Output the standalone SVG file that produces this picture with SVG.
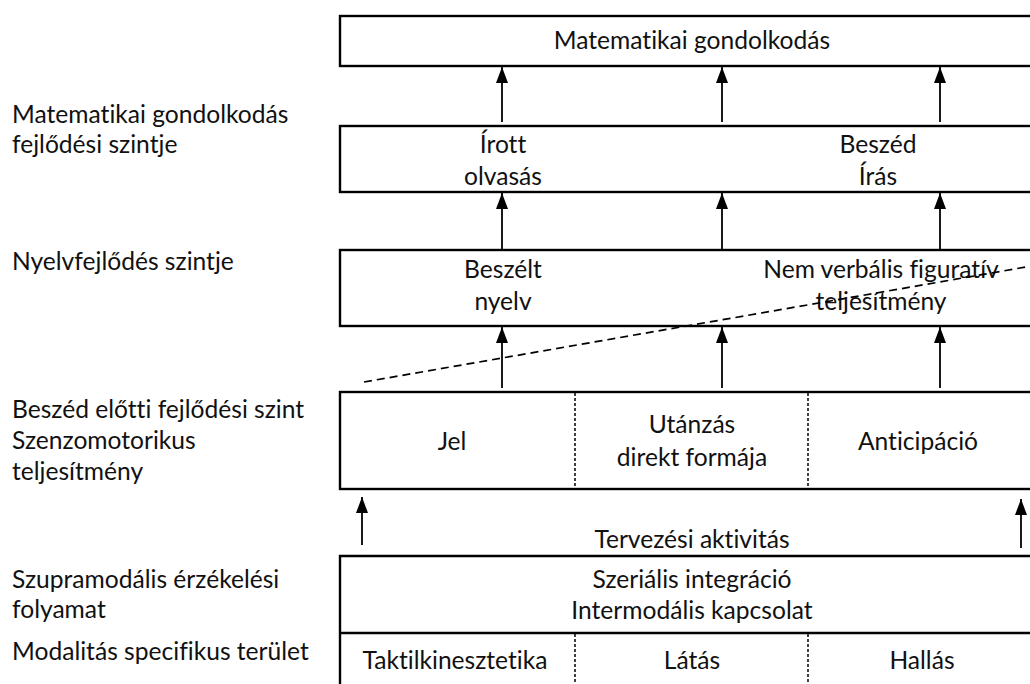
<svg xmlns="http://www.w3.org/2000/svg" width="1030" height="684" viewBox="0 0 1030 684">
  <style>
    text { font-family: Lato, "Open Sans", sans-serif; font-size: 24.6px; fill: #111; font-variant-ligatures: none; }
    .c { text-anchor: middle; }
    .box { fill: #fff; stroke: #000; stroke-width: 2.4; }
    .div { stroke: #000; stroke-width: 1.5; stroke-dasharray: 3 2; }
    .arrow { stroke: #000; stroke-width: 1.8; fill: none; marker-end: url(#head); }
    .dash { stroke: #000; stroke-width: 1.7; stroke-dasharray: 8 5; fill: none; }
  </style>
  <defs>
    <marker id="head" viewBox="0 0 16 12" refX="16" refY="6" markerWidth="16" markerHeight="12" markerUnits="userSpaceOnUse" orient="auto">
      <path d="M0,0 L16,6 L0,12 Z" fill="#000"/>
    </marker>
  </defs>

  <rect width="1030" height="684" fill="#fff"/>

  <!-- level labels on the left -->
  <g id="labels">
    <text x="12" y="123">Matematikai gondolkodás</text>
    <text x="12" y="153">fejlődési szintje</text>
    <text x="12" y="270">Nyelvfejlődés szintje</text>
    <text x="12" y="418">Beszéd előtti fejlődési szint</text>
    <text x="12" y="449">Szenzomotorikus</text>
    <text x="12" y="480">teljesítmény</text>
    <text x="12" y="588">Szupramodális érzékelési</text>
    <text x="12" y="618">folyamat</text>
    <text x="12" y="660">Modalitás specifikus terület</text>
  </g>

  <g id="math-thinking">
    <rect class="box" x="340" y="16" width="700" height="50"/>
    <text class="c" x="692" y="49">Matematikai gondolkodás</text>
  </g>

  <g id="written">
    <rect class="box" x="340" y="126" width="700" height="66"/>
    <text class="c" x="503" y="153">Írott</text>
    <text class="c" x="503" y="185">olvasás</text>
    <text class="c" x="878" y="153">Beszéd</text>
    <text class="c" x="878" y="185">Írás</text>
  </g>

  <g id="language">
    <rect class="box" x="340" y="250" width="700" height="76"/>
    <text class="c" x="503" y="278">Beszélt</text>
    <text class="c" x="503" y="310">nyelv</text>
    <text class="c" x="881" y="278">Nem verbális figuratív</text>
    <text class="c" x="881" y="310">teljesítmény</text>
  </g>

  <g id="sensorimotor">
    <rect class="box" x="340" y="392" width="700" height="97"/>
    <line class="div" x1="575" y1="393" x2="575" y2="488"/>
    <line class="div" x1="808" y1="393" x2="808" y2="488"/>
    <text class="c" x="452" y="450">Jel</text>
    <text class="c" x="692" y="433">Utánzás</text>
    <text class="c" x="692" y="466">direkt formája</text>
    <text class="c" x="918" y="450">Anticipáció</text>
  </g>

  <g id="planning">
    <text class="c" x="692" y="548">Tervezési aktivitás</text>
  </g>

  <g id="supramodal">
    <path d="M1040,556 H340 V690" fill="none" stroke="#000" stroke-width="2.4"/>
    <line x1="340" y1="633" x2="1040" y2="633" stroke="#000" stroke-width="2.4"/>
    <text class="c" x="692" y="588">Szeriális integráció</text>
    <text class="c" x="692" y="619">Intermodális kapcsolat</text>
  </g>

  <g id="modalities">
    <line class="div" x1="575" y1="634" x2="575" y2="684" stroke-dasharray="6 1"/>
    <line class="div" x1="808" y1="634" x2="808" y2="684" stroke-dasharray="6 1"/>
    <text class="c" x="455" y="669">Taktilkinesztetika</text>
    <text class="c" x="692" y="669">Látás</text>
    <text class="c" x="922" y="669">Hallás</text>
  </g>

  <!-- connectors -->
  <g id="connectors">
    <line class="arrow" x1="502" y1="122" x2="502" y2="67"/>
    <line class="arrow" x1="722" y1="122" x2="722" y2="67"/>
    <line class="arrow" x1="940" y1="122" x2="940" y2="67"/>
    <line class="arrow" x1="502" y1="249" x2="502" y2="193"/>
    <line class="arrow" x1="722" y1="249" x2="722" y2="193"/>
    <line class="arrow" x1="940" y1="249" x2="940" y2="193"/>
    <line class="arrow" x1="502" y1="388" x2="502" y2="327"/>
    <line class="arrow" x1="722" y1="388" x2="722" y2="327"/>
    <line class="arrow" x1="940" y1="388" x2="940" y2="327"/>
    <line class="arrow" x1="362" y1="545" x2="362" y2="497"/>
    <line class="arrow" x1="1021" y1="548" x2="1021" y2="499"/>
    <line class="dash" x1="364" y1="382" x2="1026" y2="267"/>
  </g>
</svg>
